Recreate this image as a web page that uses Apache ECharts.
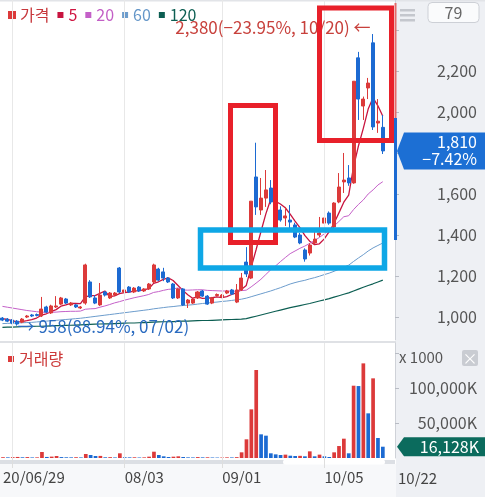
<!DOCTYPE html>
<html>
<head>
<meta charset="utf-8">
<title>가격 / 거래량</title>
<script src="https://cdn.jsdelivr.net/npm/echarts@6/dist/echarts.min.js"></script>
<style>
html, body { margin: 0; padding: 0; background: #fff; }
#main { width: 485px; height: 497px; }
</style>
</head>
<body>
<div id="main"></div>
<script>
// 일봉 (2020/06/29 ~ 10/22)
var dates = ['06/29','06/30','07/01','07/02','07/03','07/06','07/07','07/08','07/09','07/10',
    '07/13','07/14','07/15','07/16','07/17','07/20','07/21','07/22','07/23','07/24',
    '07/27','07/28','07/29','07/30','07/31','08/03','08/04','08/05','08/06','08/07',
    '08/10','08/11','08/12','08/13','08/14','08/18','08/19','08/20','08/21','08/24',
    '08/25','08/26','08/27','08/28','08/31','09/01','09/02','09/03','09/04','09/07',
    '09/08','09/09','09/10','09/11','09/14','09/15','09/16','09/17','09/18','09/21',
    '09/22','09/23','09/24','09/25','09/28','09/29','10/05','10/06','10/07','10/08',
    '10/12','10/13','10/14','10/15','10/16','10/19','10/20','10/21','10/22'];

var open = [995,990,985,980,975,1000,1010,1012,1005,1049,
    1020,1049,1063,1088,1059,1059,1044,1068,1171,1093,
    1059,1122,1093,1107,1239,1122,1146,1122,1146,1127,
    1137,1171,1234,1220,1190,1161,1093,1137,1068,1068,
    1093,1127,1102,1068,1105,1098,1117,1132,1073,1132,
    1268,1190,1683,1522,1580,1629,1560,1522,1483,1473,
    1449,1400,1327,1312,1361,1400,1458,1507,1439,1561,
    1659,1678,1654,2264,2029,2117,2337,1946,1925];
var close = [985,980,971,966,990,1005,1005,1008,1039,1024,
    1054,1054,1093,1068,1068,1049,1049,1254,1098,1068,
    1107,1107,1117,1117,1122,1132,1122,1141,1127,1137,
    1161,1254,1180,1190,1171,1093,1137,1059,1083,1088,
    1122,1102,1063,1093,1110,1107,1127,1112,1132,1190,
    1210,1565,1537,1580,1620,1561,1520,1473,1493,1463,
    1390,1361,1283,1351,1380,1410,1483,1458,1556,1634,
    1668,1654,2150,2063,2063,2141,1927,1955,1810];
var low = [980,975,965,958,970,995,1000,1003,1000,1020,
    1015,1044,1058,1063,1054,1044,1039,1060,1093,1063,
    1054,1100,1088,1102,1117,1117,1117,1117,1122,1122,
    1132,1166,1175,1175,1166,1088,1088,1054,1044,1063,
    1088,1098,1059,1063,1100,1093,1112,1107,1068,1127,
    1195,1185,1498,1498,1537,1550,1500,1465,1444,1415,
    1385,1355,1270,1300,1355,1390,1450,1450,1430,1555,
    1605,1640,1650,1961,1961,2063,1912,1898,1795];
var high = [1000,995,990,985,995,1010,1015,1017,1098,1055,
    1060,1102,1098,1093,1073,1063,1054,1260,1180,1107,
    1166,1127,1122,1122,1244,1137,1151,1146,1151,1141,
    1166,1260,1240,1240,1195,1166,1141,1141,1088,1093,
    1127,1132,1107,1098,1115,1112,1132,1137,1161,1215,
    1341,1565,1850,1678,1717,1668,1590,1540,1537,1546,
    1460,1410,1335,1360,1415,1488,1490,1515,1560,1702,
    1800,1741,2150,2293,2075,2166,2380,2063,1985];

// 이동평균
var ma5 = [992,988,982,976,978,982,987,995,1009,1016,
    1026,1036,1053,1059,1067,1066,1065,1098,1104,1104,
    1115,1127,1099,1103,1114,1119,1122,1127,1129,1132,
    1138,1164,1172,1184,1191,1178,1154,1130,1109,1092,
    1098,1091,1092,1094,1098,1095,1100,1110,1118,1134,
    1154,1242,1327,1416,1502,1573,1564,1551,1533,1502,
    1468,1436,1398,1370,1353,1357,1381,1416,1457,1508,
    1560,1594,1732,1834,1920,2014,2069,2030,1979];
var ma20 = [1052,1048,1044,1040,1036,1032,1029,1026,1024,1023,
    1023,1024,1026,1027,1028,1028,1029,1038,1040,1041,
    1048,1054,1061,1069,1075,1082,1088,1094,1099,1104,
    1110,1120,1124,1130,1135,1137,1142,1132,1131,1132,
    1133,1133,1130,1129,1128,1127,1127,1126,1126,1129,
    1131,1147,1165,1184,1207,1230,1249,1270,1290,1309,
    1322,1335,1346,1359,1373,1388,1406,1423,1444,1466,
    1489,1494,1524,1549,1571,1600,1620,1644,1660];
var ma60 = [968,969,970,971,972,973,974,976,978,980,
    982,984,986,988,990,992,994,997,1000,1003,
    1006,1009,1012,1015,1018,1021,1024,1027,1030,1033,
    1036,1040,1043,1046,1049,1051,1054,1056,1058,1060,
    1063,1066,1068,1071,1073,1076,1078,1081,1084,1087,
    1092,1099,1106,1113,1120,1127,1135,1143,1152,1161,
    1168,1174,1179,1186,1192,1199,1207,1214,1223,1233,
    1243,1253,1271,1288,1304,1322,1337,1349,1361];
var ma120 = [950,951,951,952,953,953,954,955,955,956,
    957,958,958,959,960,961,962,963,964,965,
    966,967,967,968,969,970,971,971,972,973,
    974,975,976,977,977,978,979,980,980,981,
    982,983,983,984,985,986,987,988,989,990,
    992,998,1004,1010,1016,1022,1028,1034,1040,1046,
    1051,1056,1061,1066,1072,1078,1084,1090,1097,1104,
    1111,1118,1127,1136,1145,1154,1162,1171,1180];

// 거래량 (천주)
var volume = [1100,900,1200,1500,1000,1300,800,900,8600,1500,
    2000,2900,1300,1000,900,1100,800,5700,4300,2900,
    3000,1000,1200,800,6700,1100,900,1000,700,900,
    1900,9000,4300,2400,1400,1900,2400,1400,900,800,
    1300,900,1000,700,600,700,900,800,1200,8100,
    26700,69500,125700,33800,31900,6700,5200,4300,4800,3300,
    2900,3100,2400,9500,2400,4800,2400,1400,8100,17100,
    27600,6700,103300,102800,135200,63800,113800,28600,16128];

// x축 라벨 / 월 구분선
var labelIndex = [0, 25, 45, 66];
var labelText = ['20/06/29', '08/03', '09/01', '10/05'];
var monthStarts = ['07/01', '08/03', '09/01', '10/05'];
var lastLabel = '10/22';

var chart = echarts.init(document.getElementById('main'));
var FONT = '"Noto Sans CJK KR", "Noto Sans", sans-serif';
var UP = '#dc3a3a', DOWN = '#1c6ad2';

var last = close.length - 1;
var cats = dates.concat([' ', '  ']);
var candles = dates.map(function (d, i) { return [open[i], close[i], low[i], high[i]]; });
var volData = volume.map(function (v, i) {
    return { value: v, itemStyle: { color: (i > 0 && v <= volume[i - 1]) ? DOWN : UP } };
});

// 기간 최고/최저
var hiIdx = high.indexOf(Math.max.apply(null, high));
var loIdx = low.indexOf(Math.min.apply(null, low));
function fmt(v) { return v.toLocaleString('en-US'); }
function pct(v) { var s = v.toFixed(2) + '%'; return v < 0 ? '\u2212' + s.slice(1) : s; }
var hiText = fmt(high[hiIdx]) + '(' + pct((close[last] / high[hiIdx] - 1) * 100) + ', ' + dates[hiIdx] + ') ←';
var loText = '→ ' + fmt(low[loIdx]) + '(' + pct((close[last] / low[loIdx] - 1) * 100) + ', ' + dates[loIdx] + ')';
var chg = pct((close[last] / close[last - 1] - 1) * 100);

function monthLines() {
    return {
        silent: true, symbol: 'none', animation: false,
        label: { show: false },
        lineStyle: { color: '#e8e8e8', width: 1, type: 'solid' },
        data: monthStarts.map(function (d) { return { xAxis: d }; })
    };
}

function maSeries(name, data, color, width) {
    return {
        name: name, type: 'line', data: data, xAxisIndex: 0, yAxisIndex: 0,
        symbol: 'none', smooth: false, silent: true,
        lineStyle: { color: color, width: width }, itemStyle: { color: color }
    };
}

var axisLabelBase = { fontSize: 16, color: '#555', fontFamily: FONT, margin: 82, align: 'right' };

option = {
    animation: false,
    textStyle: { fontFamily: FONT },
    legend: [{
        left: 3, top: 2, icon: 'rect', itemWidth: 6, itemHeight: 6, itemGap: 8,
        selectedMode: false, textStyle: { fontSize: 16, fontFamily: FONT },
        data: [
            { name: '가격', textStyle: { color: '#c7383c' } },
            { name: '5', textStyle: { color: '#cf1541' } },
            { name: '20', textStyle: { color: '#c35fc6' } },
            { name: '60', textStyle: { color: '#6496c8' } },
            { name: '120', textStyle: { color: '#0c5e52' } }
        ]
    }, {
        left: 3, top: 346, icon: 'rect', itemWidth: 6, itemHeight: 6,
        selectedMode: false, textStyle: { fontSize: 16, fontFamily: FONT, color: '#cc3a3a' },
        data: ['거래량']
    }],
    grid: [
        { left: 0, top: 0, width: 395, height: 340 },
        { left: 0, top: 343, width: 395, height: 115 }
    ],
    xAxis: [{
        type: 'category', gridIndex: 0, data: cats, boundaryGap: true,
        axisLine: { show: false }, axisTick: { show: false }, axisLabel: { show: false }
    }, {
        type: 'category', gridIndex: 1, data: cats, boundaryGap: true,
        axisLine: { show: false },
        axisTick: {
            show: true, alignWithLabel: true, length: 10, lineStyle: { color: '#dedede' },
            interval: function (i, v) { return monthStarts.indexOf(v) >= 0; }
        },
        axisLabel: {
            interval: function (i) { return labelIndex.indexOf(i) >= 0; },
            formatter: function (v, i) { var k = labelIndex.indexOf(i); return k >= 0 ? labelText[k] : ''; },
            align: 'left', margin: 12, fontSize: 15, color: '#444', fontFamily: FONT
        }
    }],
    yAxis: [{
        type: 'value', gridIndex: 0, position: 'right',
        min: 888, max: 2546, splitNumber: 8, minInterval: 200, maxInterval: 200,
        axisLine: { show: true, lineStyle: { color: '#cfd2d8' } },
        axisTick: { show: true, length: 4, lineStyle: { color: '#b8bcc4' } },
        splitLine: { show: false },
        axisLabel: Object.assign({}, axisLabelBase, {
            showMinLabel: false, showMaxLabel: false,
            formatter: function (v) { return (v >= 1000 && v <= 2200) ? fmt(v) : ''; }
        })
    }, {
        type: 'value', gridIndex: 1, position: 'right',
        min: 0, max: 164300, interval: 50000,
        axisLine: { show: true, lineStyle: { color: '#cfd2d8' } },
        axisTick: { show: true, length: 4, lineStyle: { color: '#b8bcc4' } },
        splitLine: { show: false },
        axisLabel: Object.assign({}, axisLabelBase, {
            showMinLabel: false, showMaxLabel: false,
            formatter: function (v) { return (v === 50000 || v === 100000) ? fmt(v) + 'K' : ''; }
        })
    }],
    series: [{
        name: '가격', type: 'candlestick', data: candles, xAxisIndex: 0, yAxisIndex: 0,
        barWidth: '72%', silent: true,
        itemStyle: { color: UP, color0: DOWN, borderColor: UP, borderColor0: DOWN, borderWidth: 1 },
        markLine: monthLines(),
        markPoint: {
            symbol: 'rect', symbolSize: 1, silent: true, animation: false,
            itemStyle: { color: 'rgba(0,0,0,0)' },
            data: [{
                coord: [dates[hiIdx], high[hiIdx]],
                label: { show: true, position: 'left', distance: 2, offset: [0, -6], formatter: hiText,
                    color: '#c8413c', fontSize: 17, fontFamily: FONT }
            }, {
                coord: [dates[loIdx], low[loIdx]],
                label: { show: true, position: 'right', distance: 0, offset: [0, 1], formatter: loText,
                    color: '#2a6bc0', fontSize: 17, fontFamily: FONT }
            }]
        },
        z: 3
    },
    maSeries('5', ma5, '#c8143f', 1.3),
    maSeries('20', ma20, '#c460c8', 1),
    maSeries('60', ma60, '#6c9ccc', 1),
    maSeries('120', ma120, '#0c5e52', 1.2),
    {
        name: '거래량', type: 'bar', data: volData, xAxisIndex: 1, yAxisIndex: 1,
        barWidth: '76%', silent: true, itemStyle: { color: UP },
        markLine: monthLines()
    }]
};
chart.setOption(option);

// 오른쪽 패널, 태그, 강조 박스
var py = chart.convertToPixel({ yAxisIndex: 0 }, close[last]);
var vy = chart.convertToPixel({ yAxisIndex: 1 }, volume[last]);

chart.setOption({
    graphic: [
        { type: 'rect', z: -10, silent: true, shape: { x: 396, y: 0, width: 89, height: 497 }, style: { fill: '#eef0f4' } },
        { type: 'rect', z: -10, silent: true, shape: { x: 0, y: 464, width: 396, height: 33 }, style: { fill: '#f7f8fa' } },
        { type: 'rect', silent: true, shape: { x: 0, y: 0, width: 485, height: 1.5 }, style: { fill: '#e2e4e8' } },
        { type: 'rect', silent: true, shape: { x: 0, y: 341, width: 396, height: 2 }, style: { fill: '#dfe1e5' } },
        { type: 'rect', silent: true, shape: { x: 0, y: 460, width: 395, height: 4 }, style: { fill: '#dcdfe4' } },
        { type: 'rect', silent: true, shape: { x: 283, y: 459.5, width: 102, height: 5, r: 2.5 }, style: { fill: '#ffffff' } },
        // 메뉴 아이콘, 봉 개수
        { type: 'rect', silent: true, shape: { x: 400, y: 9, width: 15, height: 2.5 }, style: { fill: '#c4c7cd' } },
        { type: 'rect', silent: true, shape: { x: 400, y: 14, width: 15, height: 2.5 }, style: { fill: '#c4c7cd' } },
        { type: 'rect', silent: true, shape: { x: 400, y: 19, width: 15, height: 2.5 }, style: { fill: '#c4c7cd' } },
        { type: 'rect', silent: true, shape: { x: 428, y: 2.5, width: 51, height: 20, r: 4 }, style: { fill: '#fafbfc', stroke: '#cdd0d6', lineWidth: 1 } },
        { type: 'text', silent: true, style: { text: String(dates.length), x: 453.5, y: 12.5, fill: '#666', fontSize: 16, fontFamily: FONT, textAlign: 'center', textVerticalAlign: 'middle' } },
        // 거래량 패널 부가 요소
        { type: 'text', silent: true, style: { text: 'x 1000', x: 399, y: 357, fill: '#555', fontSize: 15, fontFamily: FONT, textVerticalAlign: 'middle' } },
        { type: 'rect', silent: true, shape: { x: 462, y: 350, width: 16, height: 16, r: 2 }, style: { fill: '#c9ccd2' } },
        { type: 'text', silent: true, style: { text: '×', x: 470, y: 358, fill: '#fff', fontSize: 15, fontFamily: FONT, textAlign: 'center', textVerticalAlign: 'middle' } },
        { type: 'text', silent: true, style: { text: lastLabel, x: 398, y: 478, fill: '#444', fontSize: 15, fontFamily: FONT, textVerticalAlign: 'middle' } },
        // 축 위 범위 표시
        { type: 'rect', silent: true, z: 50, shape: { x: 394.5, y: 3, width: 2, height: 115 }, style: { fill: '#e46a6a' } },
        { type: 'rect', silent: true, z: 50, shape: { x: 394, y: 118, width: 3, height: 122 }, style: { fill: '#1c6ad2' } },
        // 강조 박스
        { type: 'rect', silent: true, z: 100, shape: { x: 230.5, y: 105.5, width: 45, height: 137 }, style: { fill: 'none', stroke: '#e8202a', lineWidth: 5 } },
        { type: 'rect', silent: true, z: 100, shape: { x: 319.5, y: 8, width: 72, height: 132.5 }, style: { fill: 'none', stroke: '#e8202a', lineWidth: 5 } },
        { type: 'rect', silent: true, z: 100, shape: { x: 200.5, y: 230, width: 184, height: 38 }, style: { fill: 'none', stroke: '#0ea7e6', lineWidth: 5.5 } },
        // 현재가 / 거래량 태그
        { type: 'polygon', silent: true, z: 110, shape: { points: [[397, py], [404, py - 18.5], [485, py - 18.5], [485, py + 18.5], [404, py + 18.5]] }, style: { fill: '#1c6fd4' } },
        { type: 'text', silent: true, z: 111, style: { text: fmt(close[last]), x: 477, y: py - 9, fill: '#fff', fontSize: 16, fontFamily: FONT, textAlign: 'right', textVerticalAlign: 'middle' } },
        { type: 'text', silent: true, z: 111, style: { text: chg, x: 477, y: py + 8, fill: '#fff', fontSize: 16, fontFamily: FONT, textAlign: 'right', textVerticalAlign: 'middle' } },
        { type: 'polygon', silent: true, z: 110, shape: { points: [[397, vy], [404, vy - 9.5], [485, vy - 9.5], [485, vy + 9.5], [404, vy + 9.5]] }, style: { fill: '#0b6b5d' } },
        { type: 'text', silent: true, z: 111, style: { text: fmt(volume[last]) + 'K', x: 479, y: vy, fill: '#fff', fontSize: 16, fontFamily: FONT, textAlign: 'right', textVerticalAlign: 'middle' } }
    ]
});
</script>
</body>
</html>
